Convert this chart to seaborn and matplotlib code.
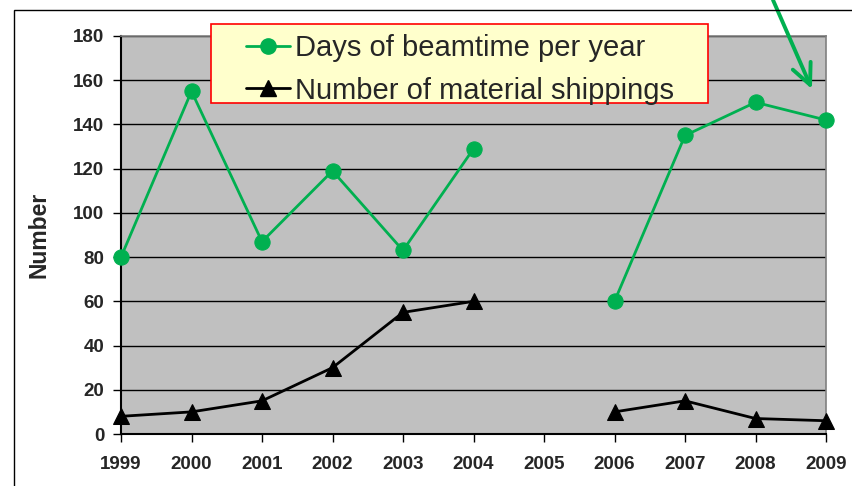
import matplotlib
matplotlib.use("Agg")
import matplotlib.pyplot as plt
import seaborn as sns
import pandas as pd
import numpy as np
from matplotlib.lines import Line2D
from matplotlib.patches import Rectangle

# chart values
years = [1999, 2000, 2001, 2002, 2003, 2004, 2005, 2006, 2007, 2008, 2009]
beamtime_days = [80, 155, 87, 119, 83, 129, np.nan, 60, 135, 150, 142]
shippings = [8, 10, 15, 30, 55, 60, np.nan, 10, 15, 7, 6]
series_names = ["Days of beamtime per year", "Number of material shippings"]
y_ticks = [0, 20, 40, 60, 80, 100, 120, 140, 160, 180]

GREEN = "#00B050"

sns.set_style("white")
plt.rcParams["font.family"] = ["Liberation Sans", "DejaVu Sans"]

df = pd.DataFrame({"year": years, "days": beamtime_days, "ships": shippings})
# no data in 2005 -> two separate line segments
df["period"] = np.where(df["year"] < 2005, "early", "late")
df = df[df["year"] != 2005]

fig = plt.figure(figsize=(8.52, 4.86), dpi=100)
ax = fig.add_axes([121 / 852, 1 - 434 / 486, (826 - 121) / 852, (434 - 36) / 486])
ax.set_facecolor("#C0C0C0")

sns.lineplot(data=df, x="year", y="days", units="period", estimator=None,
             color=GREEN, marker="o", markersize=11, markeredgecolor=GREEN,
             linewidth=2, clip_on=False, zorder=4, ax=ax)
sns.lineplot(data=df, x="year", y="ships", units="period", estimator=None,
             color="black", marker="^", markersize=11, markeredgecolor="black",
             linewidth=2, clip_on=False, zorder=4, ax=ax)

ax.set_xlim(1999, 2009)
ax.set_ylim(0, 180)
ax.set_xticks(years)
ax.set_xticklabels([str(y) for y in years], fontweight="bold", fontsize=13.5)
ax.set_yticks(y_ticks)
ax.set_yticklabels([str(t) for t in y_ticks], fontweight="bold", fontsize=13.5)
ax.set_xlabel("")
ax.set_ylabel("Number", fontweight="bold", fontsize=16.5, labelpad=16)
ax.tick_params(axis="both", direction="out", length=6, width=1, color="black",
               left=True, bottom=True)
ax.tick_params(axis="x", pad=10)
ax.tick_params(axis="y", pad=6)
ax.yaxis.grid(True, color="black", linewidth=1)
ax.set_axisbelow(True)
for s in ["left", "bottom"]:
    ax.spines[s].set_color("black")
    ax.spines[s].set_linewidth(1.5)
for s in ["top", "right"]:
    ax.spines[s].set_color("#808080")
    ax.spines[s].set_linewidth(1.2)

# legend box and entries
fig.patches.append(Rectangle((211 / 852, 1 - 103 / 486), (708 - 211) / 852, (103 - 24) / 486,
                             transform=fig.transFigure, facecolor="#FFFFCC",
                             edgecolor="red", linewidth=1.2, zorder=5))
handles = [Line2D([], [], color=GREEN, marker="o", markersize=11, linewidth=2),
           Line2D([], [], color="black", marker="^", markersize=11, linewidth=2)]
leg = fig.legend(handles, series_names, loc="upper left",
                 bbox_to_anchor=(246 / 852, 1 - 34 / 486), frameon=False,
                 fontsize=21, borderpad=0, borderaxespad=0, handlelength=1.5,
                 handletextpad=0.18, labelspacing=0.5)
leg.set_zorder(6)

# green pointer arrow from above the chart
ax.annotate("", xy=(2008.8, 156), xycoords="data",
            xytext=(773 / 852, 1.0), textcoords="figure fraction",
            arrowprops=dict(arrowstyle="->,head_length=0.75,head_width=0.35",
                            color=GREEN, lw=2.8, mutation_scale=20,
                            shrinkA=0, shrinkB=0),
            annotation_clip=False)

# outer chart frame (runs off the right/bottom edge)
fig.patches.append(Rectangle((14 / 852, -0.1), 1.0, 1.1 - 10 / 486,
                             transform=fig.transFigure, fill=False,
                             edgecolor="black", linewidth=1, zorder=0))

fig.savefig("out.png", dpi=100)
